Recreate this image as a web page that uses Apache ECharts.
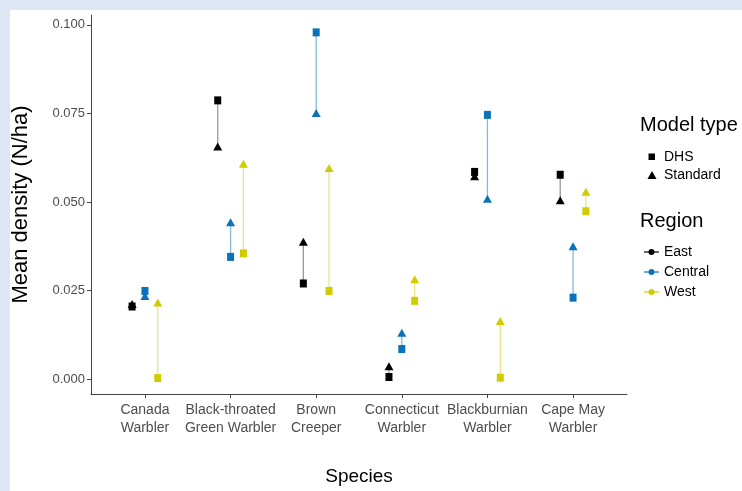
<!DOCTYPE html>
<html>
<head>
<meta charset="utf-8">
<script src="https://cdn.jsdelivr.net/npm/echarts@6/dist/echarts.min.js"></script>
<style>
html,body{margin:0;padding:0;background:#dce6f4;}
#c{width:742px;height:491px;}
</style>
</head>
<body>
<div id="c"></div>
<script>
// ---- data ----
const species = ['Canada\nWarbler', 'Black-throated\nGreen Warbler', 'Brown\nCreeper', 'Connecticut\nWarbler', 'Blackburnian\nWarbler', 'Cape May\nWarbler'];
const regions = ['East', 'Central', 'West'];
const dhsEast    = [0.0205, 0.0787, 0.0270, 0.0006, 0.0585, 0.0577];
const stdEast    = [0.0212, 0.0657, 0.0388, 0.0036, 0.0573, 0.0505];
const dhsCentral = [0.0249, 0.0345, 0.0979, 0.0085, 0.0746, 0.0230];
const stdCentral = [0.0235, 0.0443, 0.0751, 0.0131, 0.0509, 0.0375];
const dhsWest    = [0.0003, 0.0355, 0.0249, 0.0221, 0.0004, 0.0474];
const stdWest    = [0.0216, 0.0608, 0.0596, 0.0282, 0.0164, 0.0529];
const yTicks = [0, 0.025, 0.05, 0.075, 0.1];
const yTickLabels = ['0.000', '0.025', '0.050', '0.075', '0.100'];

// ---- styling ----
const pointColors = {East: '#000000', Central: '#0b72b9', West: '#d2cb00'};
const lineColors  = {East: '#9a9a9a', Central: '#84b8df', West: '#e8e488'};
const dodge = {East: -0.15, Central: 0, West: 0.15};
const regionData = {
  East: [dhsEast, stdEast],
  Central: [dhsCentral, stdCentral],
  West: [dhsWest, stdWest]
};
const sans = '"Liberation Sans", Arial, sans-serif';

const series = [];
regions.forEach(function (r) {
  const [dhs, std] = regionData[r];
  const segData = species.map(function (s, i) { return [i + 1 + dodge[r], dhs[i], std[i]]; });
  series.push({
    type: 'custom',
    name: r + ' line',
    encode: {x: 0, y: [1, 2]},
    data: segData,
    z: 2,
    renderItem: function (params, api) {
      const p1 = api.coord([api.value(0), api.value(1)]);
      const p2 = api.coord([api.value(0), api.value(2)]);
      return {type: 'line', shape: {x1: p1[0], y1: p1[1], x2: p2[0], y2: p2[1]},
        style: {stroke: lineColors[r], lineWidth: 1.3}};
    }
  });
});
regions.forEach(function (r) {
  const [dhs, std] = regionData[r];
  series.push({
    type: 'scatter', name: r + ' DHS', symbol: 'rect', symbolSize: [7, 8],
    itemStyle: {color: pointColors[r], opacity: 1}, z: 4,
    data: species.map(function (s, i) { return [i + 1 + dodge[r], dhs[i]]; })
  });
  series.push({
    type: 'scatter', name: r + ' Standard', symbol: 'triangle', symbolSize: [9, 8],
    itemStyle: {color: pointColors[r], opacity: 1}, z: 5,
    data: species.map(function (s, i) { return [i + 1 + dodge[r], std[i]]; })
  });
});

// legend via graphic
const g = [];
g.push({type: 'rect', z: -10, shape: {x: 10, y: 10, width: 732, height: 481}, style: {fill: '#ffffff'}});
g.push({type: 'text', x: 640, y: 125, style: {text: 'Model type', font: '20px ' + sans, fill: '#000', textVerticalAlign: 'middle'}});
g.push({type: 'rect', shape: {x: 648.5, y: 153.5, width: 6.5, height: 6.5}, style: {fill: '#000'}});
g.push({type: 'text', x: 664, y: 157, style: {text: 'DHS', font: '14px ' + sans, fill: '#000', textVerticalAlign: 'middle'}});
g.push({type: 'polygon', shape: {points: [[652, 171], [656.5, 179], [647.5, 179]]}, style: {fill: '#000'}});
g.push({type: 'text', x: 664, y: 175, style: {text: 'Standard', font: '14px ' + sans, fill: '#000', textVerticalAlign: 'middle'}});
g.push({type: 'text', x: 640, y: 221, style: {text: 'Region', font: '20px ' + sans, fill: '#000', textVerticalAlign: 'middle'}});
regions.forEach(function (r, i) {
  const y = 252 + i * 20;
  g.push({type: 'line', shape: {x1: 644, y1: y, x2: 659, y2: y}, style: {stroke: pointColors[r], lineWidth: 1.2}});
  g.push({type: 'circle', shape: {cx: 651.5, cy: y, r: 3}, style: {fill: pointColors[r]}});
  g.push({type: 'text', x: 664, y: y, style: {text: r, font: '14px ' + sans, fill: '#000', textVerticalAlign: 'middle'}});
});

const chart = echarts.init(document.getElementById('c'));
chart.setOption({
  backgroundColor: '#dce6f4',
  animation: false,
  grid: {left: 91, right: 115, top: 15, bottom: 96, containLabel: false},
  xAxis: {
    type: 'value', min: 0.37, max: 6.63,
    name: 'Species', nameLocation: 'middle', nameGap: 73,
    nameTextStyle: {fontFamily: sans, fontSize: 19, color: '#000'},
    axisLine: {show: true, onZero: false, lineStyle: {color: '#444', width: 1}},
    axisTick: {show: true, length: 4, lineStyle: {color: '#444'}, customValues: [1, 2, 3, 4, 5, 6]},
    axisLabel: {customValues: [1, 2, 3, 4, 5, 6], margin: 7, fontFamily: sans, fontSize: 14,
      color: '#4d4d4d', lineHeight: 18,
      formatter: function (v) { return species[Math.round(v) - 1]; }},
    splitLine: {show: false}
  },
  yAxis: {
    type: 'value', min: -0.0042, max: 0.1028,
    name: 'Mean density (N/ha)', nameLocation: 'middle', nameGap: 59,
    nameTextStyle: {fontFamily: sans, fontSize: 22, color: '#000'},
    axisLine: {show: true, onZero: false, lineStyle: {color: '#444', width: 1}},
    axisTick: {show: true, length: 4, lineStyle: {color: '#444'}, customValues: yTicks},
    axisLabel: {customValues: yTicks, margin: 6, fontFamily: sans, fontSize: 13, color: '#4d4d4d',
      formatter: function (v) { const i = yTicks.findIndex(function (t) { return Math.abs(t - v) < 1e-9; }); return i >= 0 ? yTickLabels[i] : ''; }},
    splitLine: {show: false}
  },
  graphic: g,
  series: series
});
</script>
</body>
</html>
